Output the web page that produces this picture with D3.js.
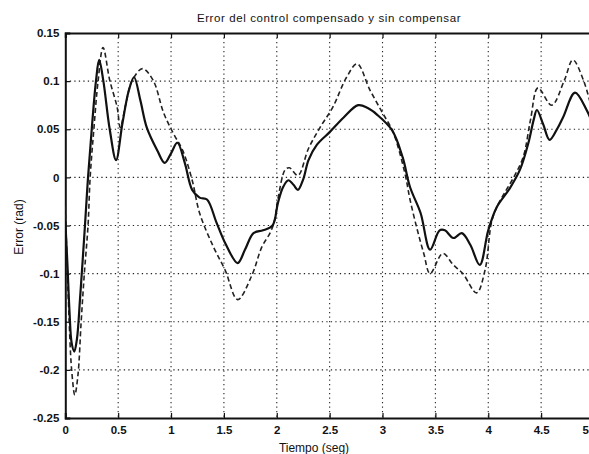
<!DOCTYPE html>
<html>
<head>
<meta charset="utf-8">
<script src="https://cdn.jsdelivr.net/npm/d3@7"></script>
<style>
  html, body { margin: 0; padding: 0; background: #fff; }
  svg { display: block; }
  text { font-family: "Liberation Sans", Arial, sans-serif; fill: #111; }
</style>
</head>
<body>
<svg id="chart" width="589" height="454"></svg>
<script>
// Compensated control error (solid line)
const tComp = [0, 0.02, 0.04, 0.06, 0.085, 0.11, 0.14, 0.186, 0.215, 0.25, 0.29, 0.32, 0.36, 0.42, 0.48, 0.54, 0.6, 0.65, 0.71, 0.77, 0.87, 0.94, 1.0, 1.06, 1.13, 1.2, 1.27, 1.34, 1.43, 1.52, 1.63, 1.7, 1.78, 1.87, 1.96, 2.01, 2.06, 2.11, 2.16, 2.2, 2.25, 2.3, 2.38, 2.5, 2.63, 2.77, 2.86, 2.95, 3.09, 3.19, 3.26, 3.36, 3.45, 3.54, 3.59, 3.67, 3.75, 3.83, 3.92, 4.0, 4.08, 4.2, 4.3, 4.38, 4.43, 4.46, 4.52, 4.58, 4.65, 4.71, 4.82, 4.93, 5.0];
const eComp = [-0.045, -0.09, -0.14, -0.172, -0.181, -0.168, -0.125, -0.05, 0.0, 0.05, 0.1, 0.122, 0.1, 0.05, 0.018, 0.056, 0.09, 0.104, 0.08, 0.052, 0.028, 0.015, 0.025, 0.036, 0.015, -0.013, -0.021, -0.023, -0.047, -0.07, -0.089, -0.075, -0.058, -0.055, -0.05, -0.027, -0.01, -0.003, -0.008, -0.013, -0.002, 0.018, 0.034, 0.047, 0.062, 0.075, 0.072, 0.065, 0.049, 0.021, -0.01, -0.037, -0.075, -0.055, -0.055, -0.063, -0.058, -0.07, -0.091, -0.055, -0.031, -0.012, 0.008, 0.036, 0.06, 0.07, 0.055, 0.039, 0.05, 0.063, 0.088, 0.07, 0.052];

// Uncompensated control error (dashed line)
const tUnc = [0, 0.03, 0.06, 0.09, 0.12, 0.15, 0.18, 0.215, 0.235, 0.27, 0.31, 0.357, 0.42, 0.49, 0.52, 0.57, 0.63, 0.73, 0.83, 0.93, 1.02, 1.11, 1.2, 1.27, 1.4, 1.51, 1.63, 1.76, 1.86, 1.94, 1.98, 2.01, 2.08, 2.12, 2.2, 2.3, 2.41, 2.53, 2.66, 2.76, 2.88, 3.0, 3.1, 3.21, 3.26, 3.33, 3.39, 3.45, 3.57, 3.67, 3.76, 3.89, 3.97, 4.03, 4.08, 4.16, 4.24, 4.33, 4.4, 4.47, 4.6, 4.72, 4.8, 4.9, 5.0];
const eUnc = [-0.03, -0.13, -0.2, -0.226, -0.205, -0.15, -0.1, -0.05, 0.0, 0.05, 0.1, 0.135, 0.101, 0.073, 0.052, 0.075, 0.1, 0.113, 0.101, 0.067, 0.046, 0.028, -0.003, -0.037, -0.072, -0.096, -0.127, -0.103, -0.072, -0.057, -0.044, -0.023, 0.008, 0.01, 0.002, 0.03, 0.052, 0.073, 0.104, 0.118, 0.091, 0.067, 0.047, 0.005, -0.023, -0.055, -0.079, -0.1, -0.079, -0.091, -0.1, -0.12, -0.096, -0.047, -0.031, -0.015, 0.0, 0.021, 0.06, 0.093, 0.075, 0.101, 0.122, 0.101, 0.062];

const xTicks = [0, 0.5, 1, 1.5, 2, 2.5, 3, 3.5, 4, 4.5, 5];
const yTicks = [-0.25, -0.2, -0.15, -0.1, -0.05, 0, 0.05, 0.1, 0.15];

const titleText = "Error del control compensado y sin compensar";
const xLabel = "Tiempo (seg)";
const yLabel = "Error (rad)";

const margin = { left: 65.3, top: 33, right: 594, bottom: 418 };
const svg = d3.select("#chart");

const x = d3.scaleLinear().domain([0, 5]).range([margin.left, margin.right]);
const y = d3.scaleLinear().domain([-0.25, 0.15]).range([margin.bottom, margin.top]);

// dotted grid
const grid = svg.append("g").attr("stroke", "#222").attr("stroke-width", 1.1)
  .attr("stroke-dasharray", "1.3,3.2");
grid.selectAll("line.gx").data(xTicks.filter(d => d > 0 && d < 5)).join("line")
  .attr("x1", d => x(d)).attr("x2", d => x(d))
  .attr("y1", margin.top).attr("y2", margin.bottom);
grid.selectAll("line.gy").data(yTicks.filter(d => d > -0.25 && d < 0.15)).join("line")
  .attr("x1", margin.left).attr("x2", margin.right)
  .attr("y1", d => y(d)).attr("y2", d => y(d));

// axes (ticks pointing inward)
const fmt = d => String(d);
const xAxis = d3.axisBottom(x).tickValues(xTicks).tickSize(-5).tickPadding(10).tickFormat(fmt);
const yAxis = d3.axisLeft(y).tickValues(yTicks).tickSize(-5).tickPadding(6).tickFormat(fmt);
const xTop = d3.axisTop(x).tickValues(xTicks).tickSize(-5).tickFormat("");

const gx = svg.append("g").attr("transform", `translate(0,${margin.bottom})`).call(xAxis);
const gy = svg.append("g").attr("transform", `translate(${margin.left},0)`).call(yAxis);
const gt = svg.append("g").attr("transform", `translate(0,${margin.top})`).call(xTop);
[gx, gy, gt].forEach(g => {
  g.select(".domain").attr("stroke", "#111").attr("stroke-width", 2);
  g.selectAll(".tick line").attr("stroke", "#111").attr("stroke-width", 1.2);
  g.selectAll(".tick text").attr("font-size", 11.5).attr("font-weight", "bold")
    .attr("font-family", "'Liberation Sans', Arial, sans-serif").attr("fill", "#111");
});
gx.selectAll(".tick text").attr("dy", "0.55em");
// the last x label sits at the page edge; keep it inside the page
gx.selectAll(".tick").filter(d => d === 5).select("text")
  .attr("text-anchor", "end").attr("x", 589 - x(5) - 0.5);

// series
const line = d3.line().x(d => x(d[0])).y(d => y(d[1])).curve(d3.curveCatmullRom.alpha(0.5));
const compData = tComp.map((t, i) => [t, eComp[i]]);
const uncData = tUnc.map((t, i) => [t, eUnc[i]]);

svg.append("clipPath").attr("id", "plotclip").append("rect")
  .attr("x", margin.left).attr("y", margin.top)
  .attr("width", margin.right - margin.left).attr("height", margin.bottom - margin.top);

const plot = svg.append("g").attr("clip-path", "url(#plotclip)");
plot.append("path").datum(uncData).attr("d", line)
  .attr("fill", "none").attr("stroke", "#222").attr("stroke-width", 1.6)
  .attr("stroke-dasharray", "5,3");
plot.append("path").datum(compData).attr("d", line)
  .attr("fill", "none").attr("stroke", "#111").attr("stroke-width", 2.2);

// labels
svg.append("text").attr("x", 329).attr("y", 22).attr("text-anchor", "middle")
  .attr("font-size", 11.5).attr("letter-spacing", 0.6).text(titleText);
svg.append("text").attr("x", 314).attr("y", 452).attr("text-anchor", "middle")
  .attr("font-size", 12).text(xLabel);
svg.append("text").attr("transform", "translate(23,227) rotate(-90)")
  .attr("text-anchor", "middle").attr("font-size", 12).text(yLabel);
</script>
</body>
</html>
